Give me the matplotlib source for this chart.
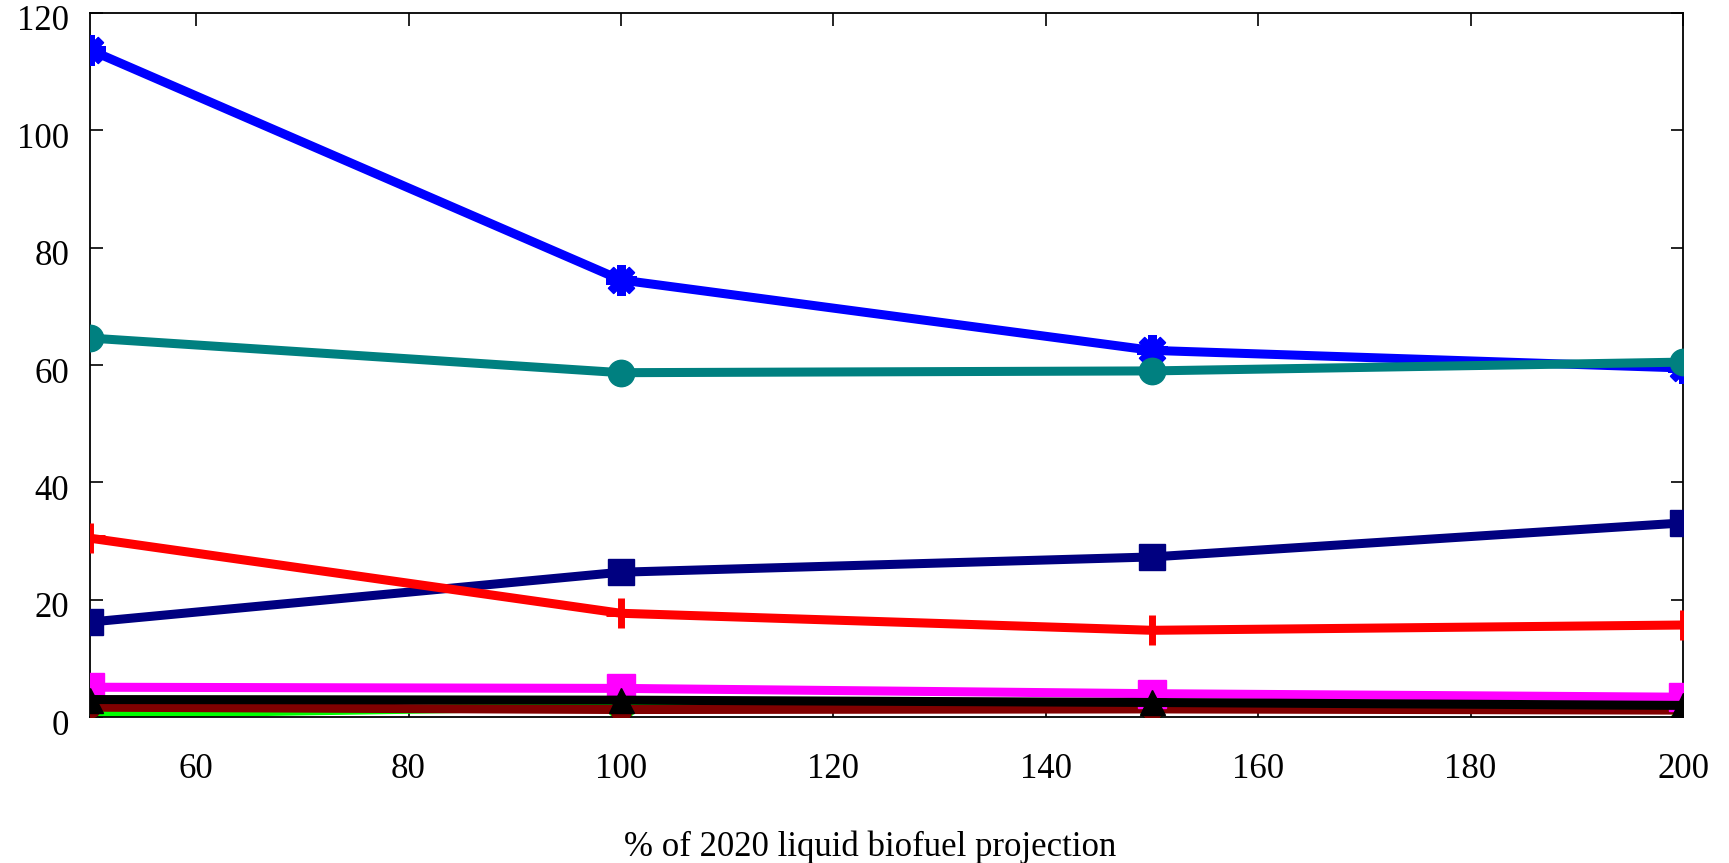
import matplotlib
matplotlib.use('Agg')
import matplotlib.pyplot as plt
from matplotlib.transforms import ScaledTranslation

plt.rcParams['font.family'] = ['Liberation Serif', 'DejaVu Serif']

# x values: % of 2020 liquid biofuel projection
x = [50, 100, 150, 200]

# series
blue = [113.7, 74.5, 62.5, 59.5]
teal = [64.6, 58.7, 59.0, 60.5]
navy = [16.2, 24.7, 27.3, 33.1]
red = [30.5, 17.7, 14.8, 15.7]
magenta = [5.1, 4.9, 4.0, 3.4]
black = [3.0, 2.9, 2.5, 2.0]
darkred = [1.7, 1.3, 1.4, 1.2]
green = [0.5, 1.9, 1.9, 1.5]

xticks = [60, 80, 100, 120, 140, 160, 180, 200]
yticks = [0, 20, 40, 60, 80, 100, 120]

fig = plt.figure(figsize=(17.29, 8.63), dpi=100)
ax = fig.add_axes([0.052, 0.169, 0.9214, 0.816])

lw = 6.5
ax.plot(x, blue, color='#0000ff', lw=lw, marker=(8, 2, 0), ms=22, mew=6, zorder=3)
ax.plot(x, teal, color='#008080', lw=lw, marker='o', ms=19, zorder=4)
ax.plot(x, navy, color='#000080', lw=lw, marker='s', ms=19, zorder=3)
ax.plot(x, red, color='#ff0000', lw=lw, marker='+', ms=22, mew=5, zorder=3)
ax.plot(x, green, color='#00ff00', lw=lw, marker='x', ms=15, mew=5, zorder=2)
ax.plot(x, darkred, color='#800000', lw=lw, marker='o', ms=15, zorder=3)
ax.plot(x, magenta, color='#ff00ff', lw=lw, marker='s', ms=20, zorder=3)
ax.plot(x, black, color='#000000', lw=lw, marker='^', ms=18, zorder=4)

ax.set_xlim(50, 200)
ax.set_ylim(0, 120)
ax.set_xticks(xticks)
ax.set_yticks(yticks)
ax.tick_params(direction='in', length=9, width=1.2, top=True, right=True,
               labelsize=25)
ax.tick_params(axis='x', pad=26)
ax.tick_params(axis='y', pad=15)
for s in ax.spines.values():
    s.set_linewidth(1.3)

# y tick labels sit a little below their ticks in the original
shift = ScaledTranslation(0, -5 / 100, fig.dpi_scale_trans)
for lab in ax.get_yticklabels():
    lab.set_transform(lab.get_transform() + shift)

ax.set_xlabel('% of 2020 liquid biofuel projection', fontsize=25)
ax.xaxis.set_label_coords(0.49, -0.185)
ax.xaxis.label.set_va('center')

fig.savefig('out.png', dpi=100)
